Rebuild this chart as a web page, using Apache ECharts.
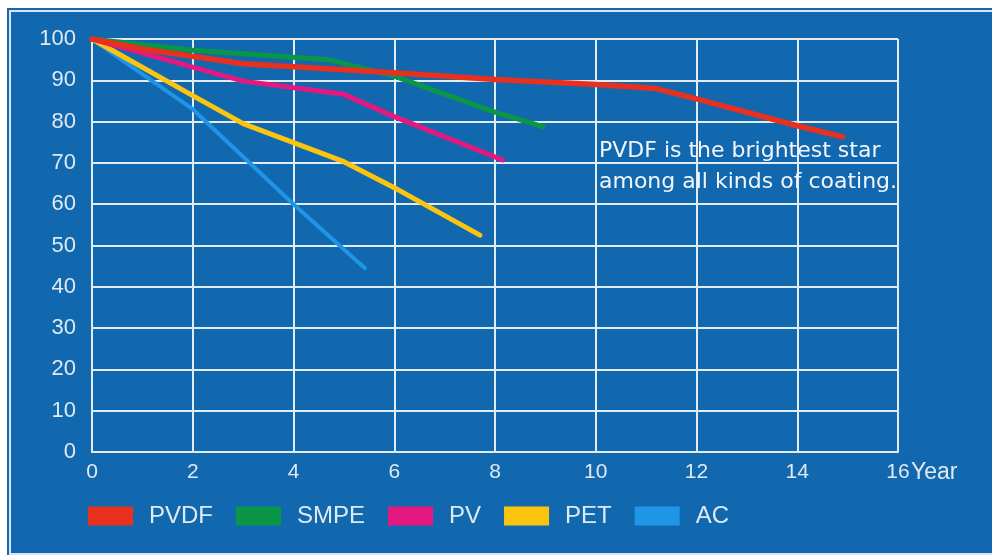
<!DOCTYPE html>
<html>
<head>
<meta charset="utf-8">
<script src="https://cdn.jsdelivr.net/npm/echarts@6/dist/echarts.min.js"></script>
<style>
  html, body { margin: 0; padding: 0; background: #ffffff; width: 992px; height: 557px; overflow: hidden; }
  #bg { position: absolute; left: 7px; top: 8px; width: 985px; height: 547px; background: #1268ae; }
  #frame { position: absolute; left: 9px; top: 10px; width: 995px; height: 545px; box-sizing: border-box; border: 2px solid #d8e4f0; }
  #chart { position: absolute; left: 0; top: 0; width: 992px; height: 557px; }
</style>
</head>
<body>
<div id="bg"></div>
<div id="frame"></div>
<div id="chart"></div>
<script>
// ---- data ----
const seriesNames = ['PVDF', 'SMPE', 'PV', 'PET', 'AC'];
const pvdf = [[0, 100], [1, 97.6], [3, 94], [6, 91.8], [8, 90.2], [10, 89], [11.2, 88], [12, 85.5], [14, 79], [14.9, 76.3]];
const smpe = [[0, 100], [2, 97.3], [4.7, 95], [6, 91], [8, 82.3], [8.95, 78.8]];
const pv   = [[0, 100], [2, 93.2], [3, 89.8], [5, 86.6], [6, 81.2], [8.15, 70.7]];
const pet  = [[0, 100], [2, 86.3], [3, 79.5], [5, 70.3], [6, 64], [7.7, 52.5]];
const ac   = [[0, 100], [1, 91.5], [2, 83], [4, 60], [5.42, 44.5]];
const xTicks = [0, 2, 4, 6, 8, 10, 12, 14, 16];
const yTicks = [0, 10, 20, 30, 40, 50, 60, 70, 80, 90, 100];
const xAxisName = 'Year';
const noteLines = ['PVDF is the brightest star', 'among all kinds of coating.'];

const colors = ['#e8301f', '#0b9647', '#e4197f', '#fbc50f', '#1f95e6'];
const widths = [5.5, 5, 5, 5, 4];
const datasets = [pvdf, smpe, pv, pet, ac];
const zs = [10, 9, 8, 7, 6];

const chart = echarts.init(document.getElementById('chart'), null, { renderer: 'canvas' });
const gridColor = '#e3ebf4';
const labelColor = '#e0e9f3';
const font = 'Liberation Sans, Arial, sans-serif';

chart.setOption({
  backgroundColor: 'transparent',
  animation: false,
  color: colors,
  grid: { left: 92, right: 94, top: 39, bottom: 105, containLabel: false },
  xAxis: {
    type: 'value', min: xTicks[0], max: xTicks[xTicks.length - 1], interval: 2,
    name: xAxisName, nameLocation: 'end', nameGap: 13, nameMoveOverlap: false,
    nameTextStyle: { color: labelColor, fontSize: 23, fontFamily: font, verticalAlign: 'top', padding: [9, 0, 0, 0] },
    axisLine: { show: true, lineStyle: { color: gridColor, width: 2 } },
    axisTick: { show: false },
    axisLabel: { color: labelColor, fontSize: 21, fontFamily: font, margin: 10 },
    splitLine: { show: true, lineStyle: { color: gridColor, width: 2 } }
  },
  yAxis: {
    type: 'value', min: yTicks[0], max: yTicks[yTicks.length - 1], interval: 10,
    axisLine: { show: true, lineStyle: { color: gridColor, width: 2 } },
    axisTick: { show: false },
    axisLabel: { color: labelColor, fontSize: 22, fontFamily: font, margin: 16 },
    splitLine: { show: true, lineStyle: { color: gridColor, width: 2 } }
  },
  legend: {
    left: 83, top: 499, itemWidth: 45, itemHeight: 19, itemGap: 23,
    icon: 'rect',
    textStyle: { color: labelColor, fontSize: 24, fontFamily: font, padding: [0, 0, 0, 11] },
    data: seriesNames
  },
  series: seriesNames.map((n, i) => ({
    name: n, type: 'line', data: datasets[i], showSymbol: false, symbol: 'none',
    z: zs[i],
    lineStyle: { color: colors[i], width: widths[i], cap: 'round', join: 'round' },
    itemStyle: { color: colors[i] }
  })),
  graphic: [{
    type: 'text', left: 599, top: 136, z: 20,
    style: {
      text: noteLines.join('\n'), fill: '#f2f6fa',
      font: '22px "DejaVu Sans", sans-serif', lineHeight: 31
    }
  }]
});
</script>
</body>
</html>
